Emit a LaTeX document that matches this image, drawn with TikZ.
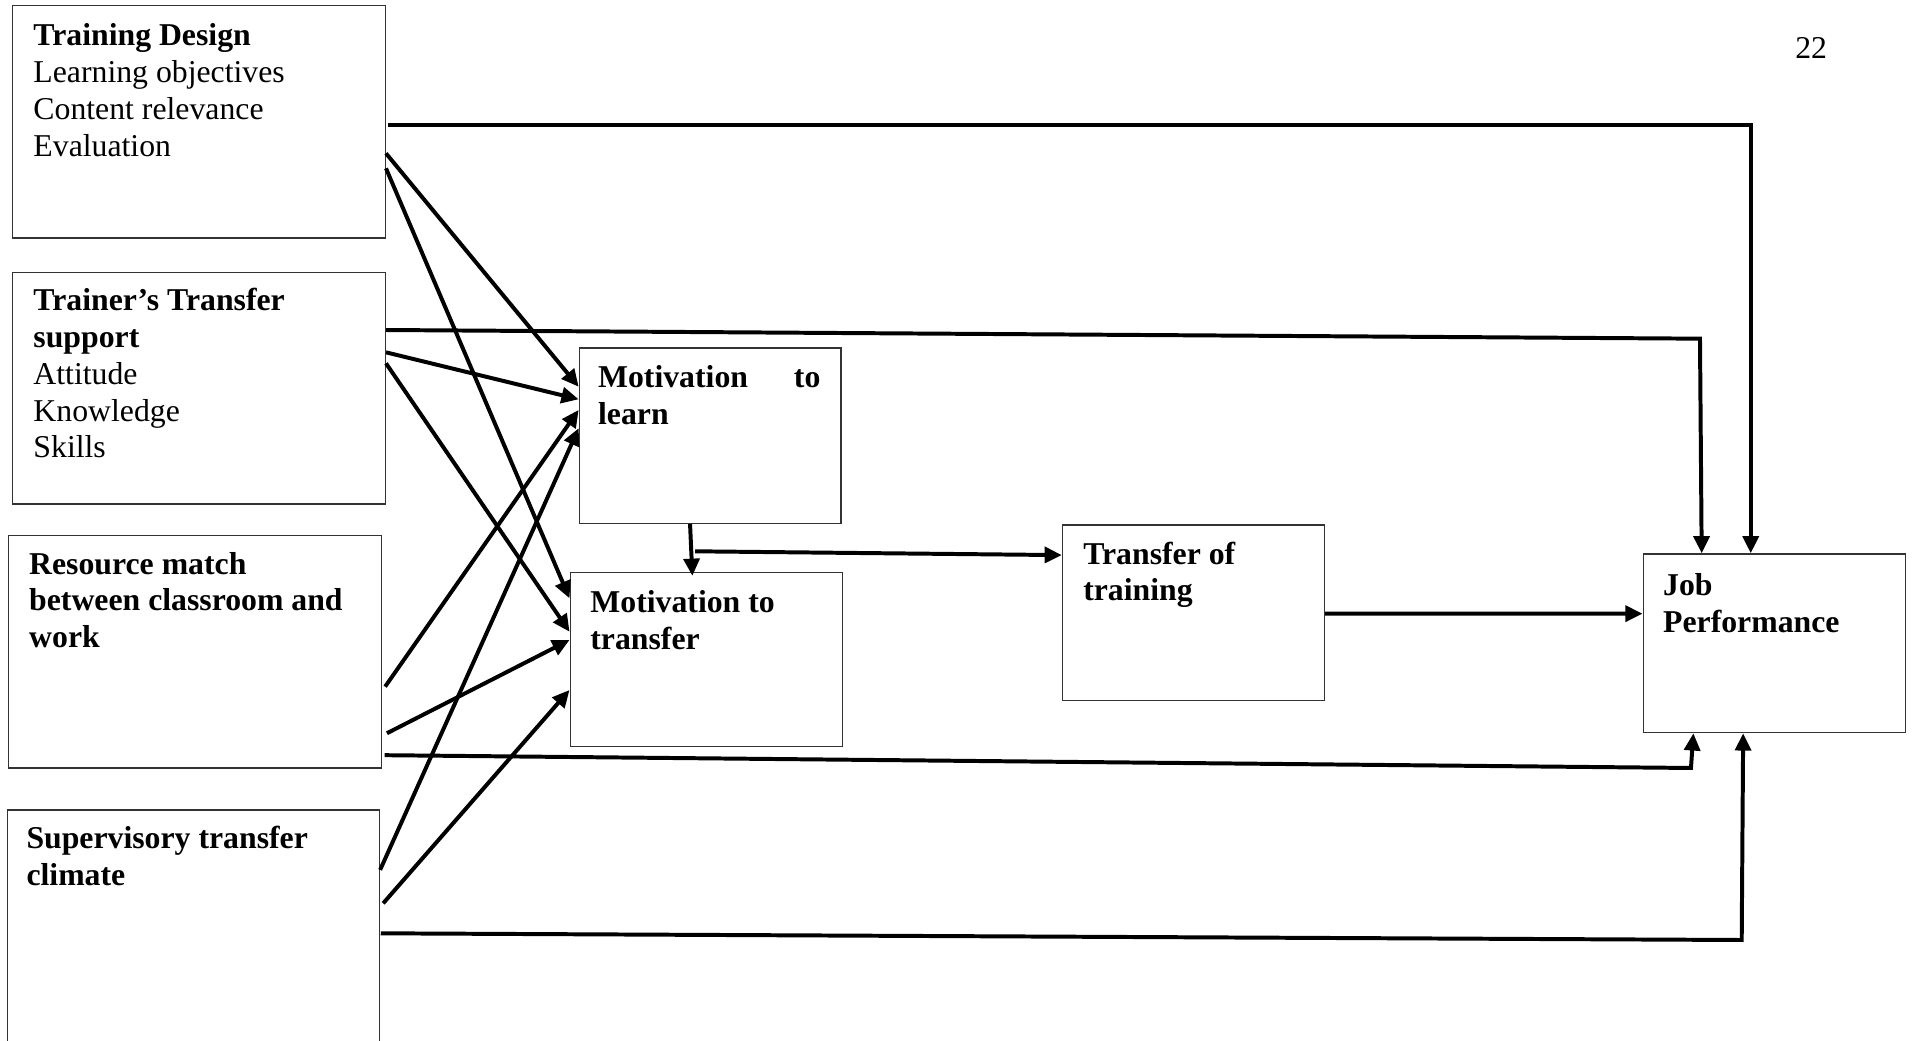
\documentclass[tikz,border=0pt,12pt]{standalone}
\usepackage{fontspec}
\setmainfont{Liberation Serif}
\usetikzlibrary{calc,positioning,arrows.meta}
\newcommand{\bodyfont}{\fontsize{12pt}{13.9pt}\selectfont}
\tikzset{box/.style 2 args={rectangle,draw=black!80,line width=0.5pt,inner sep=0pt,anchor=north west,minimum width=#1*0.461pt,minimum height=#2*0.461pt},
	head/.style={font=\bodyfont,align=left,anchor=north west,inner sep=0pt},
	link/.style={line width=1.5pt,-{Triangle[length=6.5pt,width=6pt]}}}

\begin{document}
\begin{tikzpicture}[x=0.461pt, y=-0.461pt]
	\useasboundingbox (0,0) rectangle (1568,853);
	
	% boxes
	\node [box={305.6}{190.4}] (td) at (9.7,4.1) {};
	\node [box={305.6}{189.8}] (tt) at (9.7,222.7) {};
	\node [box={305.8}{190.4}] (rm) at (6.3,438.5) {};
	\node [box={305}{195}] (sc) at (5.5,663.4) {};
	\node [box={214.6}{143.7}] (ml) at (474.3,284.7) {};
	\node [box={223.3}{142.9}] (mt) at (466.8,468.6) {};
	\node [box={214.7}{144}] (to) at (870.3,429.8) {};
	\node [box={215}{146.5}] (jp) at (1346.3,453.5) {};
	
	% texts
	\node [head] (tdt) at (27,19) {\textbf{Training Design}\\Learning objectives\\Content relevance\\Evaluation};
	\node [head] (ttt) at (27,236) {\textbf{Trainer’s Transfer}\\\textbf{support}\\Attitude\\Knowledge\\Skills};
	\node [head,font=\bodyfont\bfseries] (rmt) at (23.5,452) {Resource match\\between classroom and\\work};
	\node [head,font=\bodyfont\bfseries] (sct) at (21.3,677) {Supervisory transfer\\climate};
	\node [head,font=\bodyfont\bfseries,text width=84pt] (mlt) at (489.8,299) {Motivation\hfill to\\learn};
	\node [head,font=\bodyfont\bfseries] (mtt) at (483.5,483.4) {Motivation to\\transfer};
	\node [head,font=\bodyfont\bfseries] (tot) at (887.5,443.7) {Transfer of\\training};
	\node [head,font=\bodyfont\bfseries] (jpt) at (1362.8,470) {Job\\Performance};
	\node [font=\bodyfont,anchor=base,inner sep=0pt] (pg) at (1484.5,48) {22};
	
	% fan into the two motivation boxes
	\foreach \src/\sx/\sy/\dst/\dy in {td/0/121.6/ml/32.3, td/0/133.9/mt/21.8, tt/0/66.1/ml/42.6, tt/0/75.1/mt/49.2,
		rm/2.5/124.3/ml/51.3, rm/4/162.5/mt/56, sc/0/49.6/ml/66.3, sc/2.5/77/mt/97}{
		\draw [link] ($(\src.north east)+(\sx,\sy)$) -- ($(\dst.north west)+(0,\dy)$);
	}
	
	% direct paths to job performance
	\draw [link] ($(td.north east)+(2,98)$) -| ($(jp.north west)+(88.7,0)$);
	\draw [link] ($(tt.north east)+(0,47.8)$) -- ($(jp.north west)+(47.1,-175.9)$) -- ($(jp.north west)+(48.5,0)$);
	\draw [link] ($(rm.north east)+(2,180.5)$) -- ($(jp.south west)+(39.7,28.4)$) -- ($(jp.south west)+(41.7,0)$);
	\draw [link] ($(sc.north east)+(0.5,101.6)$) -- ($(jp.south west)+(81.3,169.4)$) -- ($(jp.south west)+(82.5,0)$);
	
	% middle chain
	\draw [link] ($(ml.south west)+(91.3,0)$) -- ($(mt.north west)+(100.7,3.4)$);
	\coordinate (br) at ($(ml.south west)+(95.4,22.4)$);
	\draw [link] (br) -- ($(to.north west)+(0,25.2)$);
	\draw [link] ($(to.north east)+(0,73.2)$) -- ($(jp.north west)+(0,49.5)$);
\end{tikzpicture}
\end{document}
